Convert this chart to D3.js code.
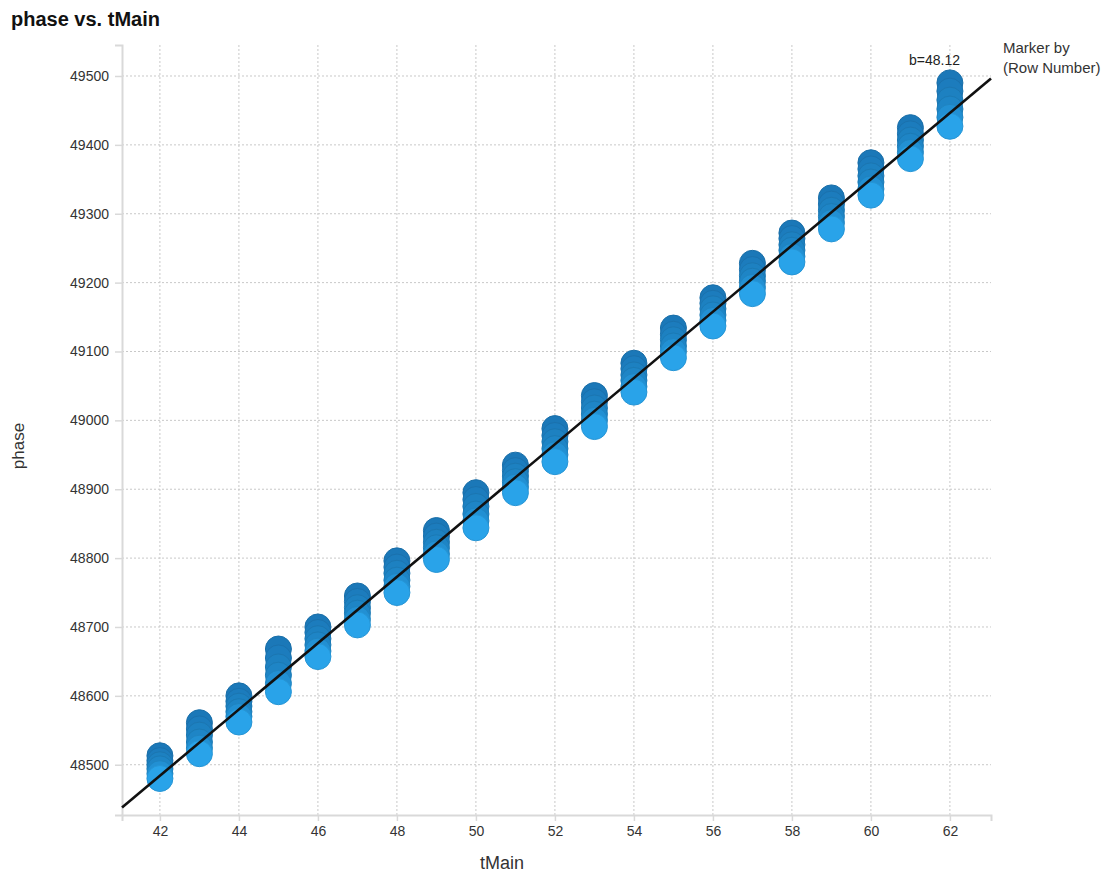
<!DOCTYPE html>
<html>
<head>
<meta charset="utf-8">
<script src="https://cdn.jsdelivr.net/npm/d3@7"></script>
<style>
  body { margin: 0; background: #fff; font-family: "Liberation Sans", Arial, sans-serif; }
</style>
</head>
<body>
<div id="chart"></div>
<script>
// tMain values (one column of markers per value)
var tMain = [42, 43, 44, 45, 46, 47, 48, 49, 50, 51, 52, 53, 54, 55, 56, 57, 58, 59, 60, 61, 62]

// phase readings for each tMain column, top (earlier rows) to bottom
var phase = [
  [48513, 48506, 48500, 48494, 48487, 48480],
  [48561, 48552, 48543, 48533, 48524, 48516],
  [48600, 48592, 48585, 48577, 48570, 48562],
  [48668, 48655, 48642, 48630, 48618, 48606],
  [48700, 48692, 48683, 48674, 48665, 48657],
  [48745, 48737, 48728, 48720, 48711, 48703],
  [48796, 48787, 48778, 48768, 48759, 48750],
  [48840, 48832, 48823, 48815, 48806, 48798],
  [48895, 48885, 48875, 48864, 48854, 48844],
  [48935, 48927, 48919, 48911, 48903, 48895],
  [48988, 48978, 48969, 48959, 48950, 48940],
  [49036, 49027, 49018, 49009, 49000, 48991],
  [49083, 49075, 49066, 49058, 49049, 49041],
  [49134, 49125, 49117, 49108, 49100, 49091],
  [49178, 49170, 49162, 49153, 49145, 49137],
  [49228, 49219, 49210, 49202, 49193, 49184],
  [49272, 49264, 49255, 49247, 49238, 49230],
  [49323, 49314, 49305, 49296, 49287, 49278],
  [49374, 49365, 49355, 49346, 49336, 49327],
  [49425, 49416, 49407, 49398, 49389, 49380],
  [49490, 49478, 49465, 49452, 49440, 49427]
]

var xTicks = [42, 44, 46, 48, 50, 52, 54, 56, 58, 60, 62]
var yTicks = [48500, 48600, 48700, 48800, 48900, 49000, 49100, 49200, 49300, 49400, 49500]

// regression line shown in the chart
var slope = 48.12
var intercept = 46463

var darkColor = '#1b78b8'
var lightColor = '#29a3e9'

var chartWidth = 1107
var chartHeight = 873
var plot = { left: 122, right: 991, top: 45, bottom: 815 }

var svg = d3.select("#chart")
  .append("svg")
  .attr("width", chartWidth)
  .attr("height", chartHeight)

var x = d3.scaleLinear().domain([41.04, 63.04]).range([plot.left, plot.right])
var y = d3.scaleLinear().domain([48427, 49545]).range([plot.bottom, plot.top])

// grid
svg.append("g").selectAll("line.vg")
  .data(xTicks)
  .enter().append("line")
  .attr("x1", d => x(d)).attr("x2", d => x(d))
  .attr("y1", plot.top).attr("y2", plot.bottom)
  .attr("stroke", "#c8c8c8").attr("stroke-dasharray", "2,2")

svg.append("g").selectAll("line.hg")
  .data(yTicks)
  .enter().append("line")
  .attr("x1", plot.left).attr("x2", plot.right)
  .attr("y1", d => y(d)).attr("y2", d => y(d))
  .attr("stroke", "#c8c8c8").attr("stroke-dasharray", "2,2")

// axes
var xAxis = svg.append("g")
  .attr("transform", "translate(0," + plot.bottom + ")")
  .call(d3.axisBottom(x).tickValues(xTicks).tickSize(6).tickPadding(5))
var yAxis = svg.append("g")
  .attr("transform", "translate(" + plot.left + ",0)")
  .call(d3.axisLeft(y).tickValues(yTicks).tickFormat(d3.format("d")).tickSize(7).tickPadding(6))

;[xAxis, yAxis].forEach(function(a) {
  a.select(".domain").attr("stroke", "#d9d9d9").attr("stroke-width", 2)
  a.selectAll(".tick line").attr("stroke", "#d9d9d9").attr("stroke-width", 1.5)
  a.selectAll(".tick text")
    .attr("fill", "#333")
    .style("font-size", "14px")
    .style("font-family", "'Liberation Sans', Arial, sans-serif")
})

// markers
var points = []
tMain.forEach(function(t, i) {
  phase[i].forEach(function(p, j) {
    points.push({ t: t, phase: p, k: j / (phase[i].length - 1) })
  })
})

var ramp = d3.scaleLinear().domain([0, 0.7, 1]).range([darkColor, '#1f87c8', lightColor])

svg.append("g").selectAll("circle")
  .data(points)
  .enter().append("circle")
  .attr("cx", d => x(d.t))
  .attr("cy", d => y(d.phase))
  .attr("r", 13)
  .attr("fill", d => ramp(d.k))
  .attr("stroke", d => d3.color(ramp(d.k)).darker(0.25))
  .attr("stroke-width", 1)

// regression line
svg.append("line")
  .attr("x1", x(41.04)).attr("y1", y(intercept + slope * 41.04))
  .attr("x2", x(63.04)).attr("y2", y(intercept + slope * 63.04))
  .attr("stroke", "#111").attr("stroke-width", 2.6)

svg.append("text")
  .attr("x", 960).attr("y", 65)
  .attr("text-anchor", "end")
  .style("font-size", "14px").attr("fill", "#222")
  .text("b=" + slope)

// titles
svg.append("text")
  .attr("x", 11).attr("y", 26)
  .style("font-size", "20px").style("font-weight", "bold").attr("fill", "#111")
  .text("phase vs. tMain")

svg.append("text")
  .attr("x", 502).attr("y", 869)
  .attr("text-anchor", "middle")
  .style("font-size", "18px").attr("fill", "#333")
  .text("tMain")

svg.append("text")
  .attr("transform", "translate(24,446) rotate(-90)")
  .attr("text-anchor", "middle")
  .style("font-size", "17px").attr("fill", "#333")
  .text("phase")

// legend
var legend = svg.append("text")
  .attr("x", 1003).attr("y", 53)
  .style("font-size", "15px").attr("fill", "#333")
legend.append("tspan").attr("x", 1003).text("Marker by")
legend.append("tspan").attr("x", 1003).attr("dy", 20).text("(Row Number)")
</script>
</body>
</html>
